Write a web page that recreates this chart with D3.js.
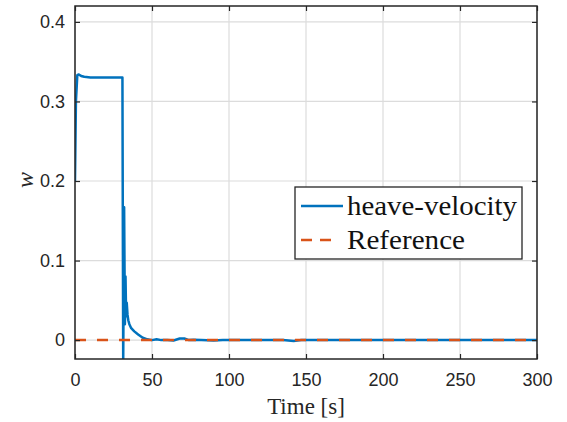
<!DOCTYPE html>
<html>
<head>
<meta charset="utf-8">
<script src="https://cdn.jsdelivr.net/npm/d3@7"></script>
<style>
  body { margin: 0; background: #fff; }
</style>
</head>
<body>
<svg id="chart" width="567" height="422"></svg>
<script>
// time samples [s] and heave velocity w
const timeVals = [0, 0.6, 1.5, 2.5, 4, 6, 10, 20, 30.8, 31.3, 31.9, 32.4, 32.8, 33.2, 33.6, 34.1, 34.6, 35.3, 36.5, 38.5, 41, 44, 47, 50, 53, 56, 60, 64, 68, 71, 74, 77, 82, 90, 96, 105, 115, 125, 135, 142, 147, 155, 170, 185, 200, 215, 230, 245, 260, 275, 290, 300];
const wVals    = [0.2, 0.3, 0.333, 0.334, 0.332, 0.331, 0.33, 0.33, 0.33, -0.03, 0.167, 0.02, 0.08, 0.03, 0.047, 0.032, 0.025, 0.02, 0.015, 0.011, 0.007, 0.003, 0.001, 0.0, 0.001, 0.0, 0.0, -0.0005, 0.002, 0.002, 0.0, 0.0005, 0.0, -0.0005, 0.0, 0.0, 0.0, 0.0, 0.0, -0.001, 0.0, 0.0, 0.0, 0.0, 0.0, 0.0, 0.0, 0.0, 0.0, 0.0, 0.0, 0.0];
const refTime  = [0, 300];
const refVals  = [0, 0];
const xTicks = [0, 50, 100, 150, 200, 250, 300];
const yTicks = [0, 0.1, 0.2, 0.3, 0.4];
const seriesNames = ['heave-velocity', 'Reference'];

const blue = '#0072BD', orange = '#D95319', axisCol = '#262626';
const serif = 'Liberation Serif, Times New Roman, serif';
const margin = {left: 75, right: 30, top: 6, bottom: 63};
const svg = d3.select('#chart');
const W = 567, H = 422;
const pw = W - margin.left - margin.right;
const ph = H - margin.top - margin.bottom;

const x = d3.scaleLinear().domain([0, 300]).range([0, pw]);
const y = d3.scaleLinear().domain([-0.02375, 0.42]).range([ph, 0]);

const g = svg.append('g').attr('transform', `translate(${margin.left},${margin.top})`);

g.append('defs').append('clipPath').attr('id', 'clip')
  .append('rect').attr('width', pw).attr('height', ph);

// grid
g.selectAll('.gx').data(xTicks).enter().append('line')
  .attr('x1', d => x(d)).attr('x2', d => x(d)).attr('y1', 0).attr('y2', ph)
  .attr('stroke', '#dcdcdc').attr('stroke-width', 1.2);
g.selectAll('.gy').data(yTicks).enter().append('line')
  .attr('y1', d => y(d)).attr('y2', d => y(d)).attr('x1', 0).attr('x2', pw)
  .attr('stroke', '#dcdcdc').attr('stroke-width', 1.2);

const line = d3.line().x(d => x(d[0])).y(d => y(d[1]));

const plot = g.append('g').attr('clip-path', 'url(#clip)');
plot.append('path')
  .datum(timeVals.map((t, i) => [t, wVals[i]]))
  .attr('d', line).attr('fill', 'none')
  .attr('stroke', blue).attr('stroke-width', 2.5).attr('stroke-linejoin', 'round');
plot.append('path')
  .datum(refTime.map((t, i) => [t, refVals[i]]))
  .attr('d', line).attr('fill', 'none')
  .attr('stroke', orange).attr('stroke-width', 2.5).attr('stroke-dasharray', '11,11');

// axes with inner ticks
const tickFont = (sel) => sel.selectAll('text')
  .attr('font-family', 'Liberation Sans, Arial, sans-serif')
  .attr('font-size', 18).attr('fill', axisCol);

const xAxis = g.append('g').attr('transform', `translate(0,${ph})`)
  .call(d3.axisBottom(x).tickValues(xTicks).tickSize(-5).tickPadding(14).tickFormat(d3.format('d')));
const yAxis = g.append('g')
  .call(d3.axisLeft(y).tickValues(yTicks).tickSize(-5).tickPadding(10).tickFormat(d => d === 0 ? '0' : d3.format('.1f')(d)));
g.append('g').call(d3.axisTop(x).tickValues(xTicks).tickSize(-5).tickFormat(''));
g.append('g').attr('transform', `translate(${pw},0)`)
  .call(d3.axisRight(y).tickValues(yTicks).tickSize(-5).tickFormat(''));

[xAxis, yAxis].forEach(tickFont);
g.selectAll('.domain').remove();
g.selectAll('.tick line').attr('stroke', axisCol).attr('stroke-width', 1.2);

g.append('rect').attr('width', pw).attr('height', ph)
  .attr('fill', 'none').attr('stroke', axisCol).attr('stroke-width', 1.5);

// labels
svg.append('text').attr('x', margin.left + pw / 2).attr('y', 414)
  .attr('text-anchor', 'middle')
  .attr('font-family', serif).attr('font-size', 23)
  .attr('fill', axisCol).text('Time [s]');
svg.append('text').attr('transform', 'translate(33,180) rotate(-90)')
  .attr('text-anchor', 'middle')
  .attr('font-family', serif).attr('font-style', 'italic')
  .attr('font-size', 24).attr('fill', axisCol).text('w');

// legend
const leg = svg.append('g').attr('transform', 'translate(295,187)');
leg.append('rect').attr('width', 227).attr('height', 72)
  .attr('fill', '#fff').attr('stroke', axisCol).attr('stroke-width', 1.3);
const textLens = [170, 118];
seriesNames.forEach((name, i) => {
  const cy = 19 + i * 34;
  leg.append('line').attr('x1', 6).attr('x2', i === 0 ? 48 : 37).attr('y1', cy).attr('y2', cy)
    .attr('stroke', i === 0 ? blue : orange).attr('stroke-width', 2.5)
    .attr('stroke-dasharray', i === 0 ? null : '11,8');
  leg.append('text').attr('x', 52).attr('y', cy + 9)
    .attr('font-family', serif).attr('font-size', 28)
    .attr('textLength', textLens[i]).attr('lengthAdjust', 'spacingAndGlyphs')
    .attr('fill', '#111').text(name);
});
</script>
</body>
</html>
